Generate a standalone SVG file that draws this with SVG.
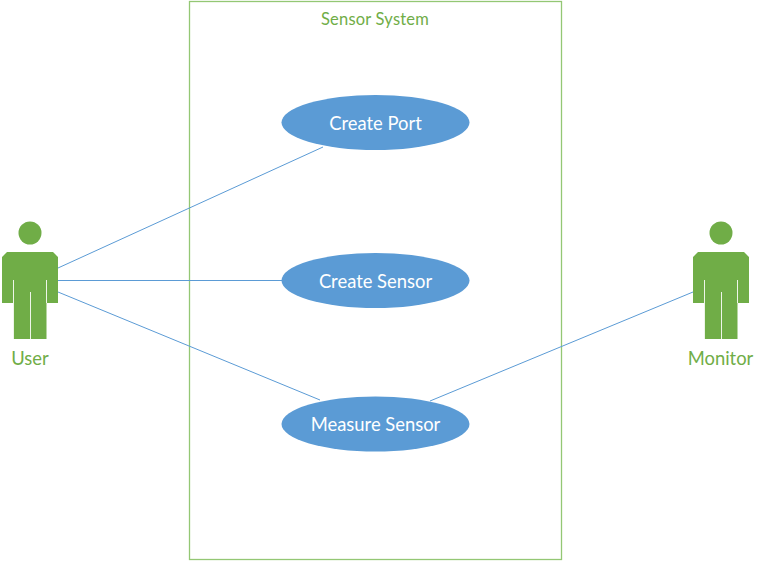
<svg xmlns="http://www.w3.org/2000/svg" width="765" height="561" viewBox="0 0 765 561">
<defs>
<g id="actor">
<circle cx="30" cy="233" r="11.500" fill="#70ad47"/>
<path d="M7 252H53L58 257V303H46.500V339H13.500V303H2V257Z" fill="#70ad47"/>
<path d="M13.500 280V339M46.500 280V303M30.500 292V339" fill="none" stroke="#eef5e8" stroke-width="1"/>
</g>
</defs>
<style>
.t{font-family:"Lato","Carlito","Liberation Sans",sans-serif;text-anchor:middle}
.g{fill:#70ad47}
.w{fill:#fff}
.c{stroke:#5b9bd5;stroke-width:1;fill:none}
.u{fill:#5b9bd5}
</style>
<rect width="765" height="561" fill="#fff"/>
<g id="system">
<rect x="189.500" y="1.500" width="372" height="558" fill="#fff" stroke="#94c774" stroke-width="1.300"/>
<text class="t g" x="375" y="24.500" font-size="16.500" letter-spacing=".2">Sensor System</text>
</g>
<g id="connectors">
<path class="c" d="M58 268L323 147"/>
<path class="c" d="M58 280.500H282"/>
<path class="c" d="M58 292L320 400"/>
<path class="c" d="M430 401L693 292"/>
</g>
<g id="create-port">
<ellipse class="u" cx="375.500" cy="122.500" rx="94" ry="27.500"/>
<text class="t w" x="375.500" y="129.500" font-size="18.400">Create Port</text>
</g>
<g id="create-sensor">
<ellipse class="u" cx="375.500" cy="280.500" rx="94" ry="27.500"/>
<text class="t w" x="375.500" y="287.500" font-size="18.400">Create Sensor</text>
</g>
<g id="measure-sensor">
<ellipse class="u" cx="375.500" cy="424" rx="94" ry="27.500"/>
<text class="t w" x="375.500" y="430.500" font-size="18.400">Measure Sensor</text>
</g>
<g id="user">
<use href="#actor"/>
<text class="t g" x="30" y="364.500" font-size="18.400">User</text>
</g>
<g id="monitor">
<use href="#actor" x="691"/>
<text class="t g" x="720.500" y="364.500" font-size="18.400">Monitor</text>
</g>
</svg>
